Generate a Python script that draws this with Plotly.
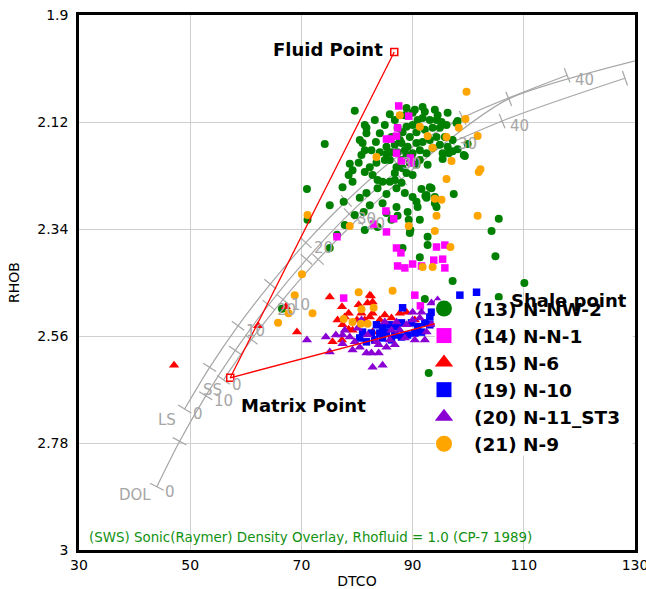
import math
import plotly.graph_objects as go

# ---------------- data (DTCO, RHOB) ----------------
nnw2 = [(79.6,2.097),(74.2,2.165),(71.0,2.258),(71.1,2.321),(75.1,2.291),(77.6,2.284),(76.4,2.352),(75.1,2.379),
        (81.4,2.126),(81.7,2.132),(85.9,2.104),(88.9,2.091),(91.8,2.089),(90.0,2.101),(81.7,2.143),(81.0,2.163),
        (81.4,2.178),(80.8,2.188),(83.4,2.161),(84.1,2.143),(78.7,2.206),(79.2,2.219),(78.5,2.229),(79.2,2.243),
        (80.3,2.204),(81.4,2.223),(82.8,2.229),(83.7,2.239),(84.6,2.243),(85.3,2.186),(86.2,2.182),(87.1,2.213),
        (86.8,2.225),(85.9,2.243),(87.1,2.256),(88.0,2.245),(83.7,2.256),(85.3,2.268),(81.7,2.266),(84.6,2.287),
        (82.3,2.291),(87.1,2.295),(89.1,2.305),(91.6,2.258),(93.1,2.254),(90.0,2.274),(90.7,2.284),(92.5,2.276),
        (94.0,2.274),(94.3,2.295),(81.2,2.305),(85.3,2.307),(87.3,2.313),(89.3,2.321),(81.4,2.342),(83.7,2.336),
        (88.2,2.379),(91.3,2.398),(92.7,2.356),(92.7,2.373),(89.5,2.348),
        (87.3,2.132),(88.2,2.141),(88.9,2.130),(90.0,2.126),(90.9,2.116),(91.8,2.112),(93.1,2.116),(93.6,2.132),
        (94.9,2.132),(96.1,2.126),(90.7,2.141),(89.5,2.151),(88.0,2.163),(89.1,2.171),(90.7,2.163),(91.8,2.161),
        (93.1,2.157),(94.3,2.151),(91.3,2.178),(92.5,2.184),(93.6,2.173),(90.0,2.184),(88.9,2.188),(88.0,2.198),
        (89.5,2.204),(90.7,2.208),(87.3,2.182),(86.2,2.151),(85.3,2.171),(84.1,2.182),(85.0,2.198),(83.5,2.204),
        (82.3,2.213),(90.0,2.229),(88.9,2.225),(88.2,2.215),(95.4,2.184),(96.3,2.171),(95.8,2.151),(94.5,2.106),
        (96.3,2.101),(94.3,2.116),(95.2,2.120),(97.9,2.122),(97.2,2.157),(97.2,2.180),(95.4,2.196),(93.4,2.256),
        (92.3,2.272),(97.4,2.268),(90.9,2.295),(98.1,2.118),(99.9,2.165),(99.2,2.188),(96.5,2.184),(98.1,2.176),
        (99.4,2.190),(105.5,2.319),(104.2,2.344),(104.9,2.396),(97.2,2.447),(110.1,2.451),(105.5,2.480),(92.2,2.484),
        (66.5,2.504),(92.9,2.636),(94.0,2.287),(92.5,2.270),
        (86.8,2.116),(88.6,2.106),(90.4,2.095),(92.2,2.099),(94.0,2.095),(87.7,2.157),(86.8,2.167),(88.6,2.178),
        (89.8,2.194),(91.3,2.198),(92.2,2.136),(92.7,2.208),(94.9,2.167),(85.9,2.198),(86.8,2.239),(88.6,2.266),
        (82.6,2.178),(80.5,2.157),(83.2,2.116),(85.0,2.126),(77.4,2.254),(80.5,2.276),(86.2,2.321),(79.6,2.311),
        (77.8,2.332),(91.3,2.321),(89.6,2.342)]

nn1 = [(87.5,2.087),(89.3,2.108),(87.3,2.132),(87.1,2.149),(85.3,2.155),(86.1,2.155),(87.1,2.184),(88.0,2.200),
       (89.6,2.194),(89.8,2.204),(85.2,2.303),(86.6,2.319),(83.0,2.330),(85.3,2.346),(76.4,2.356),(87.1,2.379),
       (87.9,2.389),(87.3,2.416),(88.6,2.420),(90.0,2.412),(91.6,2.416),(77.6,2.482),(90.4,2.476),(91.4,2.498),
       (94.3,2.377),(95.8,2.373),(93.8,2.404),(95.4,2.402),(95.8,2.420)]

n6 = [(47.1,2.620),(62.2,2.539),(67.2,2.500),(69.2,2.552),(75.1,2.480),(77.3,2.500),(82.5,2.478),(80.3,2.496),
      (81.9,2.492),(82.3,2.476),(82.8,2.490),(80.8,2.513),(78.5,2.513),(77.8,2.521),(77.4,2.537),(79.2,2.548),
      (75.6,2.572),(77.3,2.568),(78.5,2.546),(87.7,2.513),(88.9,2.511),(82.3,2.521),(84.1,2.527),(82.8,2.552),
      (82.8,2.513),(81.4,2.527),(80.0,2.527),(85.0,2.517),(86.2,2.523),(76.5,2.527),(90.4,2.527)]

n10 = [(98.5,2.476),(101.5,2.470),(88.2,2.502),(83.5,2.537),(84.6,2.541),(85.9,2.537),(87.1,2.541),(88.0,2.533),
       (89.8,2.533),(90.9,2.541),(92.2,2.533),(81.0,2.552),(82.6,2.554),(84.1,2.554),(85.3,2.552),(86.8,2.558),
       (88.0,2.562),(89.1,2.558),(90.4,2.554),(91.6,2.552),(80.5,2.564),(84.6,2.564),(81.7,2.572),(93.1,2.521),
       (93.4,2.511),(93.1,2.537),(86.2,2.568),(83.2,2.568)]

n11 = [(71.0,2.568),(74.4,2.562),(76.2,2.558),(77.4,2.558),(78.7,2.562),(79.6,2.572),(75.1,2.593),(77.4,2.576),
       (81.7,2.595),(82.6,2.595),(83.9,2.595),(82.8,2.624),(84.6,2.620),(86.2,2.548),(87.7,2.548),(88.9,2.537),
       (90.0,2.527),(91.3,2.523),(90.0,2.511),(83.5,2.572),(85.9,2.568),(85.3,2.583),(83.9,2.578),(80.5,2.583),
       (79.2,2.589),(93.4,2.492),(92.5,2.552),(93.4,2.537),(91.6,2.511),(87.1,2.531),(85.0,2.531),(77.8,2.548),
       (80.1,2.544),(81.9,2.558),(86.8,2.578),(88.6,2.564),(90.4,2.568),(92.2,2.568),(94.9,2.527),(94.5,2.486),
       (80.8,2.527)]

n9 = [(87.7,2.106),(91.3,2.130),(92.7,2.149),(93.6,2.173),(96.1,2.151),(83.5,2.192),(96.1,2.237),(71.1,2.311),
      (78.7,2.334),(89.3,2.334),(70.1,2.433),(68.8,2.476),(80.3,2.470),(86.4,2.467),(99.7,2.058),(99.5,2.114),
      (98.3,2.132),(101.7,2.149),(97.0,2.200),(102.2,2.217),(101.9,2.223),(94.0,2.278),(95.2,2.280),(94.3,2.313),
      (101.7,2.313),(94.0,2.344),(96.8,2.377),(93.6,2.418),(91.8,2.418),(67.7,2.513),(65.8,2.533),(72.0,2.513),
      (80.8,2.505),(83.0,2.502),(77.6,2.525),(79.2,2.531),(80.7,2.535),(81.9,2.535)]

# Sonic (Raymer) - density overlay lines: porosity (%), DTCO, RHOB
ss_phi  = [0, 5, 10, 15, 20, 25, 30, 35, 40]
ss_dt   = [56.0, 61.0, 66.7, 73.0, 80.1, 88.0, 96.7, 107.3, 131.5]
ss_rhob = [2.65, 2.5675, 2.485, 2.4025, 2.32, 2.2375, 2.155, 2.0725, 1.99]
ls_phi  = [0, 5, 10, 15, 20, 25, 30, 35, 40]
ls_dt   = [49.0, 53.5, 58.6, 64.4, 70.8, 78.1, 86.6, 99.0, 117.8]
ls_rhob = [2.71, 2.6245, 2.539, 2.4535, 2.368, 2.2825, 2.197, 2.1115, 2.024]
dol_phi  = [0, 5, 10, 15, 20, 25, 30, 35, 40, 45]
dol_dt   = [44.0, 48.1, 52.8, 58.1, 64.1, 70.9, 78.6, 88.0, 106.1, 128.2]
dol_rhob = [2.87, 2.7765, 2.683, 2.5895, 2.496, 2.4025, 2.309, 2.2155, 2.118, 2.030]

# interpretation points
fluid_pt = (86.7, 1.976)
matrix_pt = (57.2, 2.646)
shale_pt = (105.5, 2.50)

x_ticks = [30, 50, 70, 90, 110, 130]
y_ticks = [1.9, 2.12, 2.34, 2.56, 2.78, 3]

# ---------------- figure ----------------
W, H = 646, 589
ML, MR, MT, MB = 79, 11, 15, 39
KX = (W - ML - MR) / (x_ticks[-1] - x_ticks[0])
KY = (H - MT - MB) / (y_ticks[-1] - y_ticks[0])

GRAY = "#a6a6a6"
FONT = "DejaVu Sans"
fig = go.Figure()

def tick_angles(dt, rh):
    out = []
    n = len(dt)
    for i in range(n):
        a, b = max(i - 1, 0), min(i + 1, n - 1)
        dx = (dt[b] - dt[a]) * KX
        dy = (rh[b] - rh[a]) * KY
        out.append(math.degrees(math.atan2(dy, dx)))
    return out

ann = []
overlays = [("SS", ss_phi, ss_dt, ss_rhob, 0, -10),
            ("LS", ls_phi, ls_dt, ls_rhob, -7, -11),
            ("DOL", dol_phi, dol_dt, dol_rhob, -4, -8)]
for name, phi, dt, rh, nx, ny in overlays:
    fig.add_trace(go.Scatter(x=dt, y=rh, mode="lines", line=dict(color=GRAY, width=1.2, shape="spline", smoothing=0.8),
                             showlegend=False, hoverinfo="skip"))
    ang = tick_angles(dt, rh)
    fig.add_trace(go.Scatter(x=dt, y=rh, mode="markers",
                             marker=dict(symbol="line-ns", size=11, angle=ang,
                                         line=dict(color=GRAY, width=1.2)),
                             showlegend=False, hoverinfo="skip", cliponaxis=True))
    for i, p in enumerate(phi):
        if p % 10 == 0 and dt[i] < 122:
            ann.append(dict(x=dt[i], y=rh[i], text=str(p), showarrow=False, xanchor="left",
                            xshift=6, yshift=-5, font=dict(color=GRAY, size=15, family=FONT)))
    ann.append(dict(x=dt[0], y=rh[0], text=name, showarrow=False, xanchor="right", xshift=nx, yshift=ny,
                    font=dict(color=GRAY, size=15, family=FONT)))

wells = [("(13) N-NW-2", nnw2, "#008000", "circle", 8, 16),
         ("(14) N-N-1", nn1, "#ff00ff", "square", 7.5, 15),
         ("(15) N-6", n6, "#ff0000", "triangle-up", 9, 16),
         ("(19) N-10", n10, "#0000ff", "square", 7.5, 15),
         ("(20) N-11_ST3", n11, "#8a00d4", "triangle-up", 9, 16),
         ("(21) N-9", n9, "#ffa500", "circle", 8, 16)]
for name, pts, col, sym, sz, lsz in wells:
    fig.add_trace(go.Scatter(x=[p[0] for p in pts], y=[p[1] for p in pts], mode="markers",
                             marker=dict(symbol=sym, color=col, size=sz, line=dict(width=0)),
                             showlegend=False, name=name))

# lines between interpretation points
fig.add_trace(go.Scatter(x=[fluid_pt[0], matrix_pt[0], shale_pt[0]], y=[fluid_pt[1], matrix_pt[1], shale_pt[1]],
                         mode="lines+markers", line=dict(color="#ff0000", width=1.3),
                         marker=dict(symbol="square-open", size=7, color="#ff0000", line=dict(width=1.5)),
                         showlegend=False, hoverinfo="skip"))

# legend-only traces (big markers)
for name, pts, col, sym, sz, lsz in wells:
    fig.add_trace(go.Scatter(x=[None], y=[None], mode="markers", name="<b>" + name + "</b>",
                             marker=dict(symbol=sym, color=col, size=lsz), showlegend=True))

bold = dict(family=FONT, size=18, color="black")
ann.append(dict(x=fluid_pt[0], y=fluid_pt[1], text="<b>Fluid Point</b>", showarrow=False, xanchor="right",
                xshift=-9, yshift=2, font=bold))
ann.append(dict(x=matrix_pt[0], y=matrix_pt[1], text="<b>Matrix Point</b>", showarrow=False, xanchor="left",
                xshift=9, yshift=-28, font=bold))
ann.append(dict(x=shale_pt[0], y=shale_pt[1], text="<b>Shale point</b>", showarrow=False, xanchor="left",
                xshift=10, yshift=6, font=bold))
ann.append(dict(xref="paper", yref="paper", x=0.014, y=0.023, xanchor="left", yanchor="middle",
                text="(SWS) Sonic(Raymer) Density Overlay, Rhofluid = 1.0 (CP-7 1989)", showarrow=False,
                font=dict(family=FONT, size=13.4, color="#119111")))

# white backdrop of the legend box (covers marks behind it)
legend_box = dict(type="rect", xref="paper", yref="paper", x0=0.640, x1=0.996, y0=0.176, y1=0.467,
                  fillcolor="white", line=dict(width=0), layer="above")

axis_common = dict(showgrid=True, gridcolor="#cfcfcf", gridwidth=1, showline=True, linecolor="black",
                   linewidth=2.5, mirror=True, zeroline=False, ticks="outside", automargin=False,
                   ticklabeloverflow="allow",
                   tickcolor="rgba(0,0,0,0)", tickfont=dict(family=FONT, size=14, color="black"))
fig.update_layout(
    width=W, height=H, margin=dict(l=ML, r=MR, t=MT, b=MB),
    plot_bgcolor="white", paper_bgcolor="white",
    xaxis=dict(range=[x_ticks[0], x_ticks[-1]], tickvals=x_ticks, ticktext=[str(v) for v in x_ticks], ticklen=0,
               title=dict(text="DTCO", font=dict(family=FONT, size=14, color="black")), **axis_common),
    yaxis=dict(range=[y_ticks[-1], y_ticks[0]], tickvals=y_ticks, ticktext=[str(v) for v in y_ticks], ticklen=5,
               title=dict(text="RHOB", font=dict(family=FONT, size=14, color="black")), **axis_common),
    legend=dict(x=0.6025, y=0.486, xanchor="left", yanchor="top", bgcolor="rgba(0,0,0,0)", borderwidth=0,
                font=dict(family=FONT, size=18.5, color="black"), itemsizing="trace", itemwidth=50,
                tracegroupgap=0),
    shapes=[legend_box],
    annotations=ann, showlegend=True,
)
fig.write_html("out.html")
